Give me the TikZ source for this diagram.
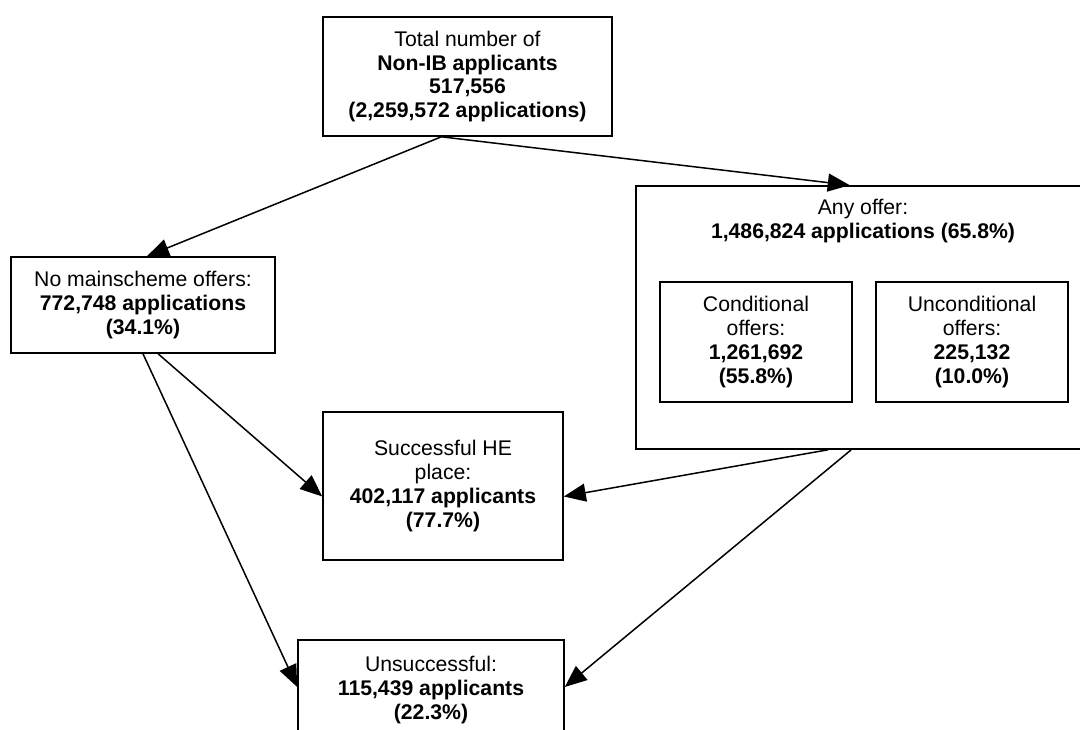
\documentclass[tikz,border=0pt]{standalone}
\usepackage{fontspec}
\setmainfont{Liberation Sans}
\usetikzlibrary{arrows.meta,calc}
\begin{document}
\begin{tikzpicture}[x=0.5pt,y=-0.5pt,
  box/.style={draw,line width=0.8pt,fill=white,inner sep=0pt,align=center,
    font=\fontsize{10.6}{11.9}\selectfont},
  txt/.style={inner sep=0pt,align=center,font=\fontsize{10.6}{11.9}\selectfont},
  arr/.style={line width=0.75pt,-{Triangle[length=11pt,width=9pt]}}]
\useasboundingbox (0,0) rectangle (1080,729);
\clip (0,0) rectangle (1080,729);
\node[box,minimum width=289*0.5pt,minimum height=119*0.5pt] (top) at (467.5,76.5)
  {Total number of\\ \textbf{Non-IB applicants}\\ \textbf{517,556}\\ \textbf{(2,259,572 applications)}};
\node[box,minimum width=264*0.5pt,minimum height=96*0.5pt] (nomain) at (143,305)
  {No mainscheme offers:\\ \textbf{772,748 applications}\\ \textbf{(34.1\%)}};
\node[box,minimum width=454*0.5pt,minimum height=263*0.5pt] (any) at (863,317.5) {};
\node[txt] (anytext) at (863,221) {Any offer:\\ \textbf{1,486,824 applications (65.8\%)}};
\node[box,minimum width=192*0.5pt,minimum height=120*0.5pt] (cond) at (756,342)
  {Conditional\\ offers:\\ \textbf{1,261,692}\\ \textbf{(55.8\%)}};
\node[box,minimum width=192*0.5pt,minimum height=120*0.5pt] (uncond) at (972,342)
  {Unconditional\\ offers:\\ \textbf{225,132}\\ \textbf{(10.0\%)}};
\node[box,minimum width=240*0.5pt,minimum height=148*0.5pt] (succ) at (443,486)
  {Successful HE\\ place:\\ \textbf{402,117 applicants}\\ \textbf{(77.7\%)}};
\node[box,minimum width=266*0.5pt,minimum height=100*0.5pt] (unsucc) at (431,690)
  {Unsuccessful:\\ \textbf{115,439 applicants}\\ \textbf{(22.3\%)}};
\coordinate (topout) at ($(top.south west)!0.41!(top.south east)$);
\draw[arr] (topout) -- ($(nomain.north west)!0.515!(nomain.north east)$);
\draw[arr] (topout) -- ($(any.north west)!0.471!(any.north east)$);
\draw[arr] (nomain.south) -- ($(unsucc.north west)!0.47!(unsucc.south west)$);
\draw[arr] ($(nomain.south west)!0.557!(nomain.south east)$) -- ($(succ.north west)!0.57!(succ.south west)$);
\draw[arr] ($(any.south west)!0.423!(any.south east)$) -- ($(succ.north east)!0.57!(succ.south east)$);
\draw[arr] ($(any.south west)!0.474!(any.south east)$) -- ($(unsucc.north east)!0.47!(unsucc.south east)$);
\end{tikzpicture}
\end{document}
